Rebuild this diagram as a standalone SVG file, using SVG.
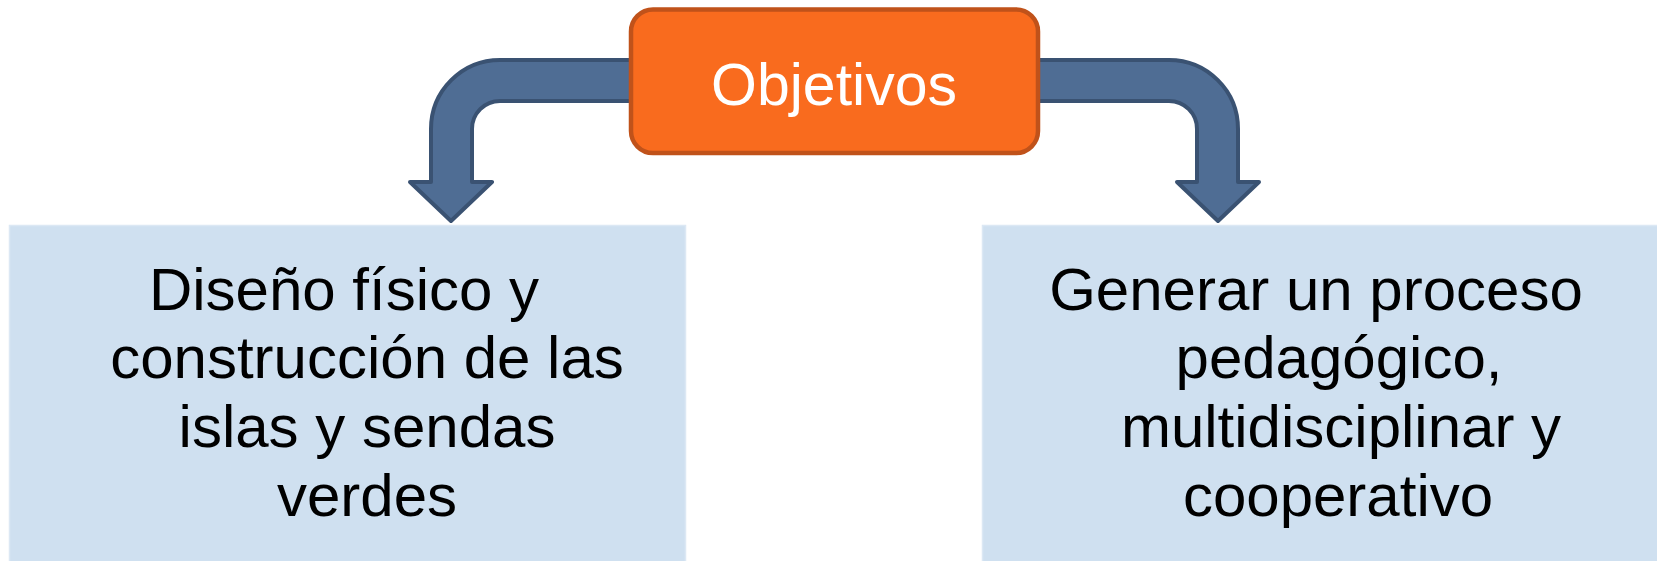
<svg xmlns="http://www.w3.org/2000/svg" width="1657" height="561" viewBox="0 0 1657 561">
  <style>
    .arrow { fill: #4F6D94; stroke: #3A5272; stroke-width: 4; stroke-linejoin: round; }
    .box { fill: #CFE0F0; stroke: #DCE8F4; stroke-width: 1.5; }
    .hub { fill: #F96B1E; stroke: #C0521A; stroke-width: 4.5; }
    .t { font-family: "Liberation Sans", Arial, sans-serif; font-size: 60px; fill: #000; text-anchor: middle; }
    .th { font-family: "Liberation Sans", Arial, sans-serif; font-size: 59px; fill: #FFFFFF; text-anchor: middle; }
  </style>
  <rect width="1657" height="561" fill="#FFFFFF"/>
  <g id="connectors">
    <path class="arrow" d="M 640 60 H 500 A 69 69 0 0 0 431 129 V 182 H 410 L 451 221 L 492 182 H 472 V 129 A 28 28 0 0 1 500 101 H 640 Z"/>
    <path class="arrow" d="M 1029 60 H 1169 A 69 69 0 0 1 1238 129 V 182 H 1259 L 1218 221 L 1177 182 H 1197 V 129 A 28 28 0 0 0 1169 101 H 1029 Z"/>
  </g>
  <g id="node-objetivos">
    <rect class="hub" x="631" y="9.5" width="407" height="143.5" rx="22" ry="22"/>
    <text class="th" x="834" y="105">Objetivos</text>
  </g>
  <g id="node-diseno">
    <rect class="box" x="9.5" y="225.5" width="676" height="345"/>
    <text class="t" x="344" y="310">Diseño físico y</text>
    <text class="t" x="367" y="378">construcción de las</text>
    <text class="t" x="367" y="447">islas y sendas</text>
    <text class="t" x="367" y="516">verdes</text>
  </g>
  <g id="node-generar">
    <rect class="box" x="982.5" y="225.5" width="680" height="345"/>
    <text class="t" x="1316" y="310">Generar un proceso</text>
    <text class="t" x="1339" y="378">pedagógico,</text>
    <text class="t" x="1341" y="447">multidisciplinar y</text>
    <text class="t" x="1338" y="516">cooperativo</text>
  </g>
</svg>
